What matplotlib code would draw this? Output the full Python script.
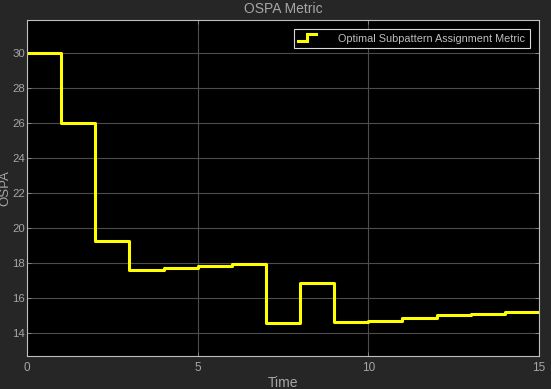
import matplotlib
matplotlib.use("Agg")
import matplotlib.pyplot as plt
from matplotlib.legend_handler import HandlerBase
from matplotlib.lines import Line2D
import numpy as np

plt.rcParams['font.family'] = ['Liberation Sans', 'DejaVu Sans']

time = list(range(16))
ospa = [30.0, 26.0, 19.25, 17.62, 17.72, 17.83, 17.93, 14.6, 16.85, 14.65,
        14.71, 14.88, 15.05, 15.11, 15.19, 15.19]
xticks = [0, 5, 10, 15]
yticks = [14, 16, 18, 20, 22, 24, 26, 28, 30]

figbg = '#262626'
txt = '#a6a6a6'


class StepHandler(HandlerBase):
    def create_artists(self, legend, orig_handle, xdescent, ydescent,
                       width, height, fontsize, trans):
        x0, x1 = -xdescent, -xdescent + width
        y0, y1 = -ydescent, -ydescent + height
        xm = (x0 + x1) / 2
        xs = [x0, xm, xm, x1]
        ys = [y0 + 0.05 * height, y0 + 0.05 * height, y1, y1]
        ln = Line2D(xs, ys, color=orig_handle.get_color(),
                    lw=orig_handle.get_linewidth(), transform=trans,
                    solid_joinstyle='miter')
        return [ln]


fig = plt.figure(figsize=(5.51, 3.89), dpi=100, facecolor=figbg)
ax = fig.add_axes([27/551, 33/389, 512/551, 336/389])
ax.set_facecolor('black')
line, = ax.step(time, ospa, where='post', color='#ffff00', lw=2.2,
                label='Optimal Subpattern Assignment Metric')
ax.set_xlim(0, 15)
ax.set_ylim(12.7, 31.9)
ax.set_xticks(xticks)
ax.set_yticks(yticks)
ax.grid(True, color='#4d4d4d', lw=0.8)
for s in ax.spines.values():
    s.set_color('#bfbfbf')
    s.set_linewidth(0.8)
ax.tick_params(colors=txt, labelsize=8.2, direction='in', length=3,
               width=0.6, pad=1.5, top=True, right=True, color='#8c8c8c')
ax.tick_params(axis='x', pad=4, labelsize=8.5)
ax.set_xlabel('Time', color=txt, fontsize=10, labelpad=2)
ax.set_ylabel('OSPA', color=txt, fontsize=9.5)
ax.yaxis.set_label_coords(-15.5/512, 0.5)
ax.set_title('OSPA Metric', color=txt, fontsize=10, pad=5)
leg = ax.legend(handles=[line], loc='upper right', facecolor='black',
                edgecolor='#d9d9d9', fontsize=7.8, fancybox=False,
                framealpha=1, borderaxespad=0.8, handlelength=1.6,
                handletextpad=2.1, borderpad=0.45,
                handler_map={Line2D: StepHandler()})
for t in leg.get_texts():
    t.set_color('#bfbfbf')
leg.get_frame().set_linewidth(0.8)

fig.savefig('out.png', dpi=100, facecolor=figbg)
